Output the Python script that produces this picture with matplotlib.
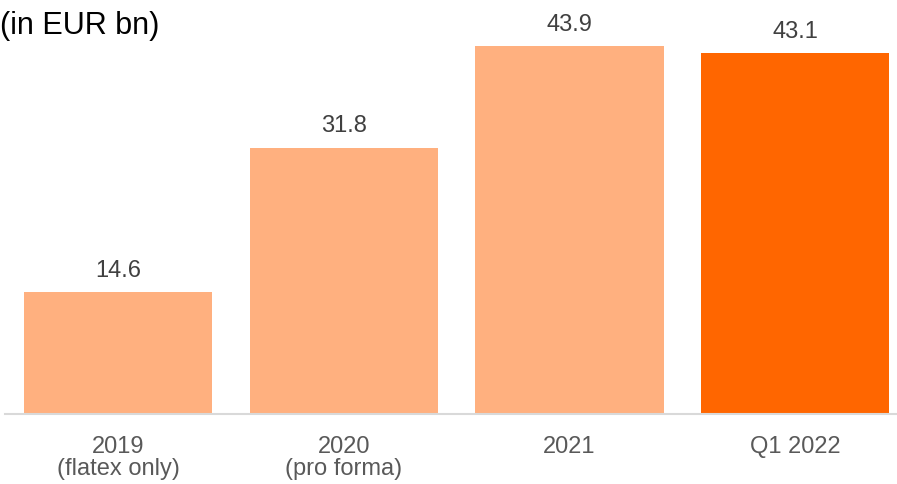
import matplotlib.pyplot as plt

plt.rcParams['font.family'] = ['Liberation Sans', 'DejaVu Sans']

categories = ["2019\n(flatex only)", "2020\n(pro forma)", "2021", "Q1 2022"]
values = [14.6, 31.8, 43.9, 43.1]
colors = ["#FFB07F", "#FFB07F", "#FFB07F", "#FF6600"]

fig = plt.figure(figsize=(8.97, 4.85), dpi=100)
ax = fig.add_axes([5 / 897, 70 / 485, 892 / 897, 382 / 485])

x = range(len(values))
bars = ax.bar(x, values, width=0.834, color=colors)

for b, v in zip(bars, values):
    ax.annotate(f"{v:.1f}", (b.get_x() + b.get_width() / 2, v),
                xytext=(0, 8), textcoords="offset points",
                ha="center", va="bottom", fontsize=17, color="#404040",
                annotation_clip=False)

ax.set_xlim(-0.503, 3.452)
ax.set_ylim(0, 45.6)
ax.set_xticks(list(x))
ax.set_xticklabels(categories, fontsize=17, color="#595959", linespacing=1.0)
ax.tick_params(axis="x", length=0, pad=15)
ax.set_yticks([])
for s in ["top", "right", "left"]:
    ax.spines[s].set_visible(False)
ax.spines["bottom"].set_color("#D9D9D9")
ax.spines["bottom"].set_linewidth(1.5)

fig.text(0, 1 - 26 / 485, "(in EUR bn)", fontsize=22, color="black",
         ha="left", va="center")

fig.savefig("out.png", dpi=100)
